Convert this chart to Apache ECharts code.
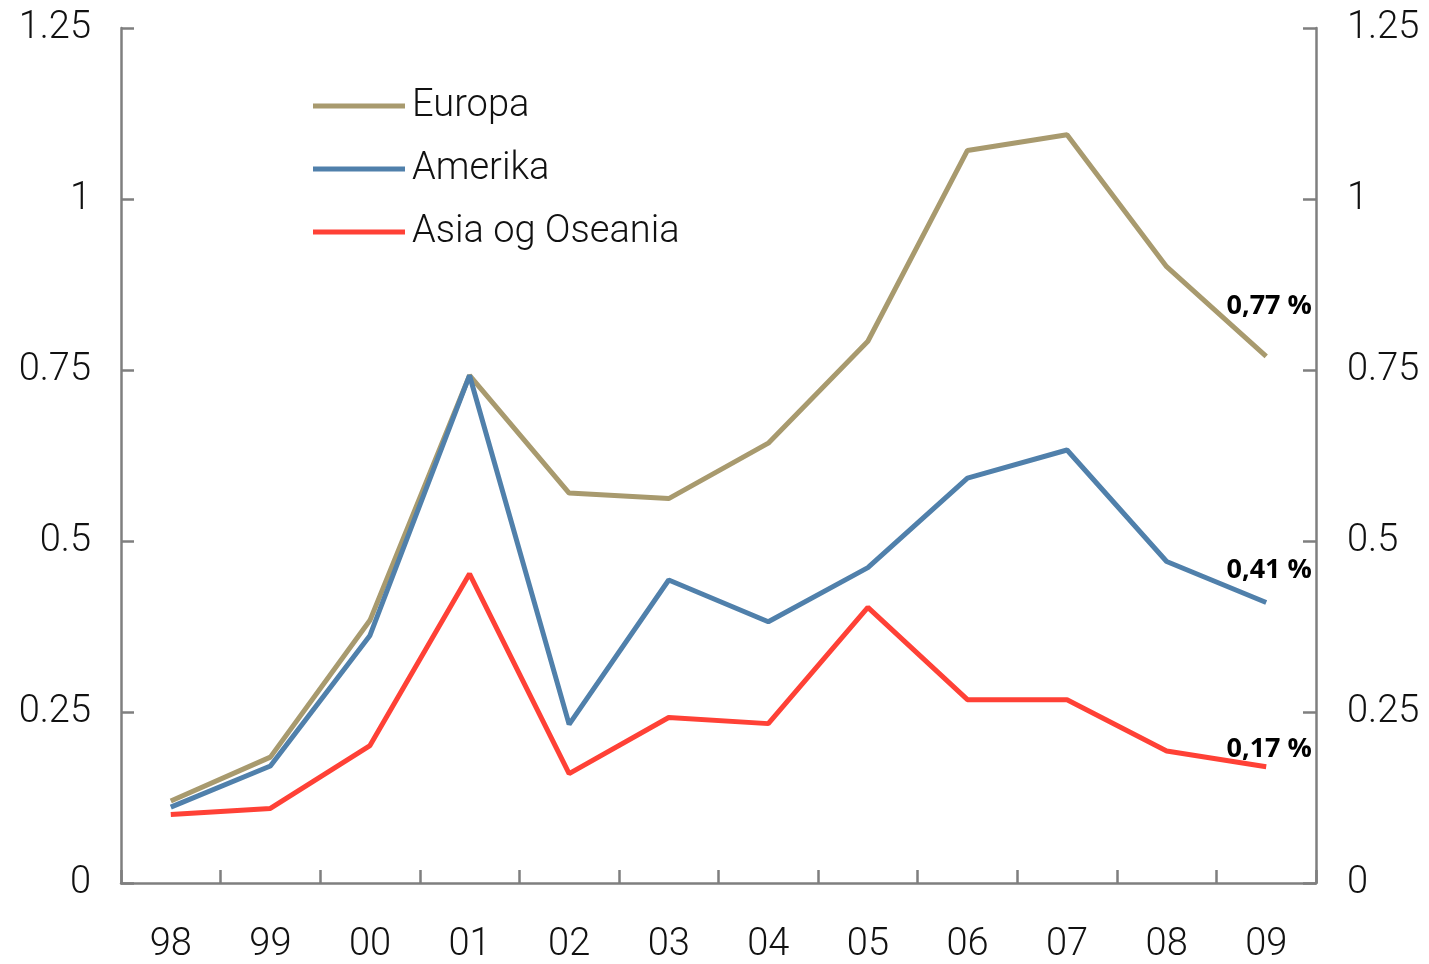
<!DOCTYPE html>
<html>
<head>
<meta charset="utf-8">
<script src="https://cdn.jsdelivr.net/npm/echarts@6/dist/echarts.min.js"></script>
<style>
html, body { margin: 0; padding: 0; background: #fff; }
#chart { width: 1429px; height: 964px; }
</style>
</head>
<body>
<div id="chart"></div>
<script>
// data
var years = ['98', '99', '00', '01', '02', '03', '04', '05', '06', '07', '08', '09']
var europa = [0.12, 0.184, 0.384, 0.742, 0.57, 0.562, 0.643, 0.792, 1.071, 1.094, 0.901, 0.77]
var amerika = [0.111, 0.171, 0.362, 0.742, 0.232, 0.443, 0.382, 0.461, 0.592, 0.633, 0.47, 0.41]
var asia = [0.10, 0.109, 0.201, 0.452, 0.160, 0.242, 0.233, 0.403, 0.268, 0.268, 0.193, 0.17]
var endLabels = ['0,77 %', '0,41 %', '0,17 %']

var axisColor = '#7f7f7f'
var font = 'Roboto'

function withEndLabel(values, text, offsetY) {
    return values.map(function (v, i) {
        if (i !== values.length - 1) return v
        return {
            value: v,
            label: {
                show: true,
                position: 'top',
                offset: [3, offsetY],
                formatter: text,
                fontFamily: 'Open Sans',
                fontWeight: 'bold',
                fontSize: 27,
                color: '#000'
            }
        }
    })
}

function yAxis(pos) {
    return {
        type: 'value',
        position: pos,
        min: 0,
        max: 1.25,
        interval: 0.25,
        axisLine: { show: true, lineStyle: { color: axisColor, width: 2.5 } },
        axisTick: { show: true, inside: true, length: 13, lineStyle: { color: axisColor, width: 2.5 } },
        splitLine: { show: false },
        axisLabel: {
            color: '#111',
            fontFamily: font,
            fontWeight: 300,
            fontSize: 38,
            margin: pos === 'left' ? 30 : 31,
            padding: [4, 0, 0, 0],
            formatter: function (v) { return String(+v.toFixed(2)) }
        }
    }
}

var chart = echarts.init(document.getElementById('chart'))
var options = {
    animation: false,
    backgroundColor: '#fff',
    grid: { left: 121, right: 113, top: 28, bottom: 78 },
    legend: {
        orient: 'vertical',
        left: 313,
        top: 84,
        padding: 0,
        icon: 'rect',
        itemWidth: 92,
        itemHeight: 5,
        itemGap: 19,
        textStyle: { fontFamily: font, fontWeight: 300, fontSize: 38, color: '#111', lineHeight: 44, padding: [0, 0, 0, 2] },
        data: ['Europa', 'Amerika', 'Asia og Oseania']
    },
    xAxis: {
        type: 'category',
        data: years,
        boundaryGap: true,
        axisLine: { lineStyle: { color: axisColor, width: 2.5 } },
        axisTick: { show: true, inside: true, length: 13, lineStyle: { color: axisColor, width: 2.5 } },
        axisLabel: { color: '#111', fontFamily: font, fontWeight: 300, fontSize: 38, margin: 43 }
    },
    yAxis: [yAxis('left'), yAxis('right')],
    series: [
        {
            name: 'Europa',
            type: 'line',
            data: withEndLabel(europa, endLabels[0], -32),
            symbol: 'circle',
            symbolSize: 0,
            lineStyle: { color: '#a89a6e', width: 5 },
            itemStyle: { color: '#a89a6e' },
            z: 2
        },
        {
            name: 'Amerika',
            type: 'line',
            data: withEndLabel(amerika, endLabels[1], -14),
            symbol: 'circle',
            symbolSize: 0,
            lineStyle: { color: '#5080ab', width: 5 },
            itemStyle: { color: '#5080ab' },
            z: 3
        },
        {
            name: 'Asia og Oseania',
            type: 'line',
            data: withEndLabel(asia, endLabels[2], 1),
            symbol: 'circle',
            symbolSize: 0,
            lineStyle: { color: '#ff4136', width: 5 },
            itemStyle: { color: '#ff4136' },
            z: 4
        }
    ]
}
chart.setOption(options)
</script>
</body>
</html>
